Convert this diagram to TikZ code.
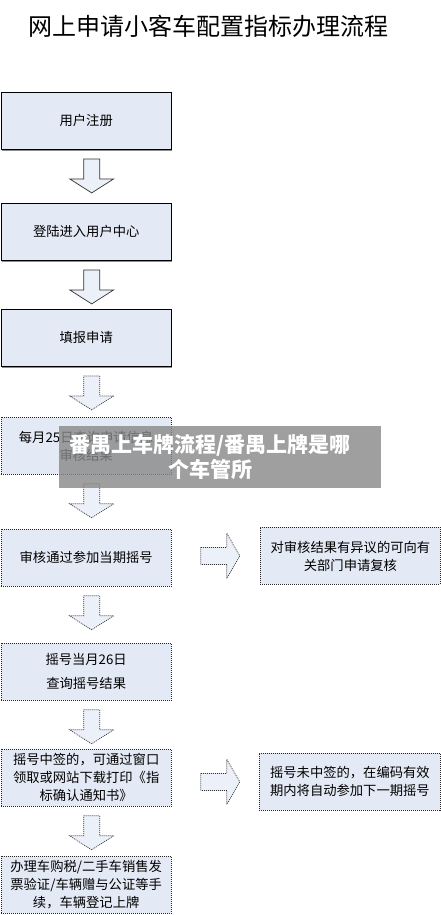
\documentclass[tikz,border=0pt]{standalone}
\usepackage{fontspec}
\setmainfont{Noto Sans CJK SC}
\usetikzlibrary{calc,shadows}
\definecolor{boxfill}{RGB}{228,234,245}
\definecolor{arrowfill}{RGB}{236,240,248}
\definecolor{bandgray}{RGB}{136,136,136}
\newcommand\downarr[2]{%
  \draw[#2] ($(#1.south)+(5.5,9)$) ++(-8,0) -- ++(16,0) -- ++(0,20) -- ++(14,0)
    -- ++(-22,14) -- ++(-22,-14) -- ++(14,0) -- cycle;}
\newcommand\rightarr[3]{%
  \draw[#3] ($(#1.east |- #2.west)+(29,-8.5)$) -- ++(26,0) -- ++(0,-14) -- ++(13,22.5)
    -- ++(-13,22.5) -- ++(0,-14) -- ++(-26,0) -- cycle;}
\begin{document}
\begin{tikzpicture}[x=1pt,y=-1pt,
  boxbase/.style={fill=boxfill, minimum width=170.5pt, minimum height=57pt,
    inner sep=0pt, align=center, anchor=north west,
    font=\fontsize{13.3}{18}\selectfont},
  solidbox/.style={boxbase, draw=black, line width=0.9pt,
    drop shadow={shadow xshift=1pt, shadow yshift=-1.8pt, fill=black!45, opacity=1}},
  dotbox/.style={boxbase, draw=black!85, line width=0.8pt, dash pattern=on 1pt off 1pt},
  rbox/.style={dotbox, minimum width=180pt},
  solidarrow/.style={draw=black!80, fill=arrowfill, line width=0.7pt},
  dotarrow/.style={solidarrow, dash pattern=on 1pt off 1pt},
]
\useasboundingbox (0,0) rectangle (441,915);
\fill[white] (0,0) rectangle (441,915);

\node[font=\fontsize{24}{28}\selectfont] (title) at (208,26) {网上申请小客车配置指标办理流程};

\node[solidbox] (b1) at (0.5,92) {用户注册};
\node[solidbox] (b2) at (0.5,203) {登陆进入用户中心};
\node[solidbox] (b3) at (0.5,309) {填报申请};
\node[dotbox] (b4) at (0.5,417) {每月25日查询申请信息\\审核结果};
\node[dotbox] (b5) at (0.5,529) {审核通过参加当期摇号};
\node[dotbox, font=\fontsize{13.3}{24}\selectfont] (b6) at (0.5,643) {摇号当月26日\\查询摇号结果};
\node[dotbox] (b7) at (0.5,749) {摇号中签的，可通过窗口\\领取或网站下载打印《指\\标确认通知书》};
\node[dotbox] (b8) at (0.5,856) {办理车购税/二手车销售发\\票验证/车辆赠与公证等手\\续，车辆登记上牌};

\node[rbox] (r1) at (260,527) {对审核结果有异议的可向有\\关部门申请复核};
\node[rbox, minimum width=181pt] (r2) at (259,753) {摇号未中签的，在编码有效\\期内将自动参加下一期摇号};

\downarr{b1}{solidarrow}
\downarr{b2}{solidarrow}
\downarr{b3}{dotarrow}
\downarr{b4}{dotarrow}
\downarr{b5}{dotarrow}
\downarr{b6}{dotarrow}
\downarr{b7}{dotarrow}
\rightarr{b5}{r1}{dotarrow}
\rightarr{b7}{r2}{dotarrow}

\node[fill=bandgray, fill opacity=0.8, minimum width=322pt, minimum height=62pt,
  inner sep=0pt] (band) at (220,457) {};
\node[text=white, font=\bfseries\fontsize{21}{25}\selectfont, align=center]
  (bandtext) at (210,457) {番禺上车牌流程/番禺上牌是哪\\个车管所};
\end{tikzpicture}
\end{document}
